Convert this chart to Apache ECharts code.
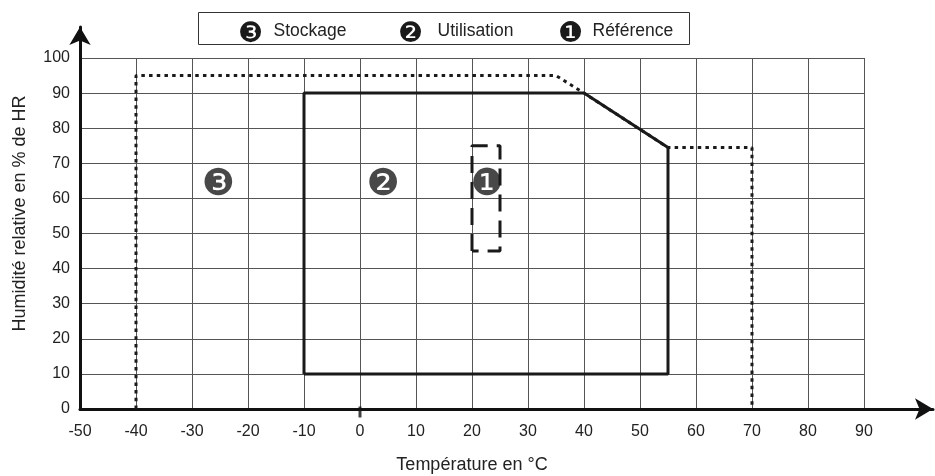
<!DOCTYPE html>
<html>
<head>
<meta charset="utf-8">
<script src="https://cdn.jsdelivr.net/npm/echarts@6/dist/echarts.min.js"></script>
<style>html,body{margin:0;padding:0;background:#fff}#c{width:935px;height:476px}</style>
</head>
<body>
<div id="c"></div>
<script>
// ---- data ----
const xTicks = [-50,-40,-30,-20,-10,0,10,20,30,40,50,60,70,80,90];
const yTicks = [0,10,20,30,40,50,60,70,80,90,100];
const storageT = [-40,-40,35,40,55,70,70];
const storageH = [0,95,95,90,74.5,74.5,0];
const useT = [-10,-10,40,55,55,-10];
const useH = [10,90,90,74.5,10,10];
const refT = [20,20,25,25,20];
const refH = [45,75,75,45,45];
const zoneNames = ['Stockage','Utilisation','Référence'];
const zoneMarks = ['❸','❷','❶'];
const zoneLabelT = [-25.3,4.1,22.7];
const zoneLabelH = [64.7,64.7,64.7];
const xTitle = 'Température en °C';
const yTitle = 'Humidité relative en % de HR';

const FONT = '"Liberation Sans", Arial, sans-serif';
const DING = '"DejaVu Sans", sans-serif';
const pairs = (a,b) => a.map((v,i)=>[v,b[i]]);

const chart = echarts.init(document.getElementById('c'), null, {renderer:'canvas'});
chart.setOption({
  animation:false,
  backgroundColor:'#fff',
  grid:[
    {left:80, top:58, width:784, height:351, outerBoundsMode:'none', containLabel:false},
    {left:80, top:27, right:2, bottom:67, outerBoundsMode:'none', containLabel:false}
  ],
  xAxis:[
    {type:'value', gridIndex:0, min:xTicks[0], max:xTicks[xTicks.length-1], interval:10,
     axisLine:{show:false}, axisTick:{show:false},
     axisLabel:{color:'#222', fontSize:16, fontFamily:FONT, margin:15},
     splitLine:{show:true, lineStyle:{color:'#555', width:1}},
     name:xTitle, nameLocation:'middle', nameGap:47,
     nameTextStyle:{color:'#222', fontSize:18, fontFamily:FONT}},
    {type:'value', gridIndex:1, min:0, max:1, axisLabel:{show:false}, axisTick:{show:false},
     splitLine:{show:false},
     axisLine:{show:true, onZero:false, symbol:['none','arrow'], symbolSize:[16,18],
       lineStyle:{color:'#111', width:3}}}
  ],
  yAxis:[
    {type:'value', gridIndex:0, min:yTicks[0], max:yTicks[yTicks.length-1], interval:10,
     axisLine:{show:false}, axisTick:{show:false},
     axisLabel:{color:'#222', fontSize:16, fontFamily:FONT, margin:10},
     splitLine:{show:true, lineStyle:{color:'#555', width:1}},
     name:yTitle, nameLocation:'middle', nameGap:51,
     nameTextStyle:{color:'#222', fontSize:18, fontFamily:FONT, padding:[0,0,0,40]}},
    {type:'value', gridIndex:1, min:0, max:1, axisLabel:{show:false}, axisTick:{show:false},
     splitLine:{show:false},
     axisLine:{show:true, onZero:false, symbol:['none','arrow'], symbolSize:[16,18],
       lineStyle:{color:'#111', width:3}}}
  ],
  series:[
    {name:zoneNames[0], type:'line', xAxisIndex:0, yAxisIndex:0, data:pairs(storageT,storageH),
     symbol:'none', lineStyle:{color:'#1a1a1a', width:3, type:[3.5,4.2]}, z:3},
    {name:zoneNames[1], type:'line', xAxisIndex:0, yAxisIndex:0, data:pairs(useT,useH),
     symbol:'none', lineStyle:{color:'#1a1a1a', width:3}, z:4},
    {name:zoneNames[2], type:'line', xAxisIndex:0, yAxisIndex:0, data:pairs(refT,refH),
     symbol:'none', lineStyle:{color:'#1a1a1a', width:3, type:[17,9]}, z:4},
    {type:'scatter', xAxisIndex:0, yAxisIndex:0, symbolSize:0,
     data:zoneMarks.map((m,i)=>({value:[zoneLabelT[i],zoneLabelH[i]], label:{formatter:m}})),
     label:{show:true, position:'inside', color:'#1a1a1a', fontSize:37, fontFamily:DING, offset:[0,3]}, z:5},
    {type:'scatter', xAxisIndex:0, yAxisIndex:0, symbol:'rect', symbolSize:[3,11], symbolOffset:[0,3],
     itemStyle:{color:'#111'}, data:[[0,0]], z:6}
  ],
  graphic:[
    {type:'group', left:198, top:12, children:[
      {type:'rect', shape:{x:0,y:0,width:491,height:32}, style:{fill:'#fff', stroke:'#333', lineWidth:1}},
      {type:'text', x:52, y:22, style:{text:zoneMarks[0], font:'28px '+DING, fill:'#1a1a1a', textAlign:'center', textVerticalAlign:'middle'}},
      {type:'text', x:75, y:19, style:{text:zoneNames[0], font:'17.5px '+FONT, fill:'#222', textAlign:'left', textVerticalAlign:'middle'}},
      {type:'text', x:212, y:22, style:{text:zoneMarks[1], font:'28px '+DING, fill:'#1a1a1a', textAlign:'center', textVerticalAlign:'middle'}},
      {type:'text', x:239, y:19, style:{text:zoneNames[1], font:'17.5px '+FONT, fill:'#222', textAlign:'left', textVerticalAlign:'middle'}},
      {type:'text', x:372, y:22, style:{text:zoneMarks[2], font:'28px '+DING, fill:'#1a1a1a', textAlign:'center', textVerticalAlign:'middle'}},
      {type:'text', x:394, y:19, style:{text:zoneNames[2], font:'17.5px '+FONT, fill:'#222', textAlign:'left', textVerticalAlign:'middle'}}
    ]}
  ]
});
</script>
</body>
</html>
